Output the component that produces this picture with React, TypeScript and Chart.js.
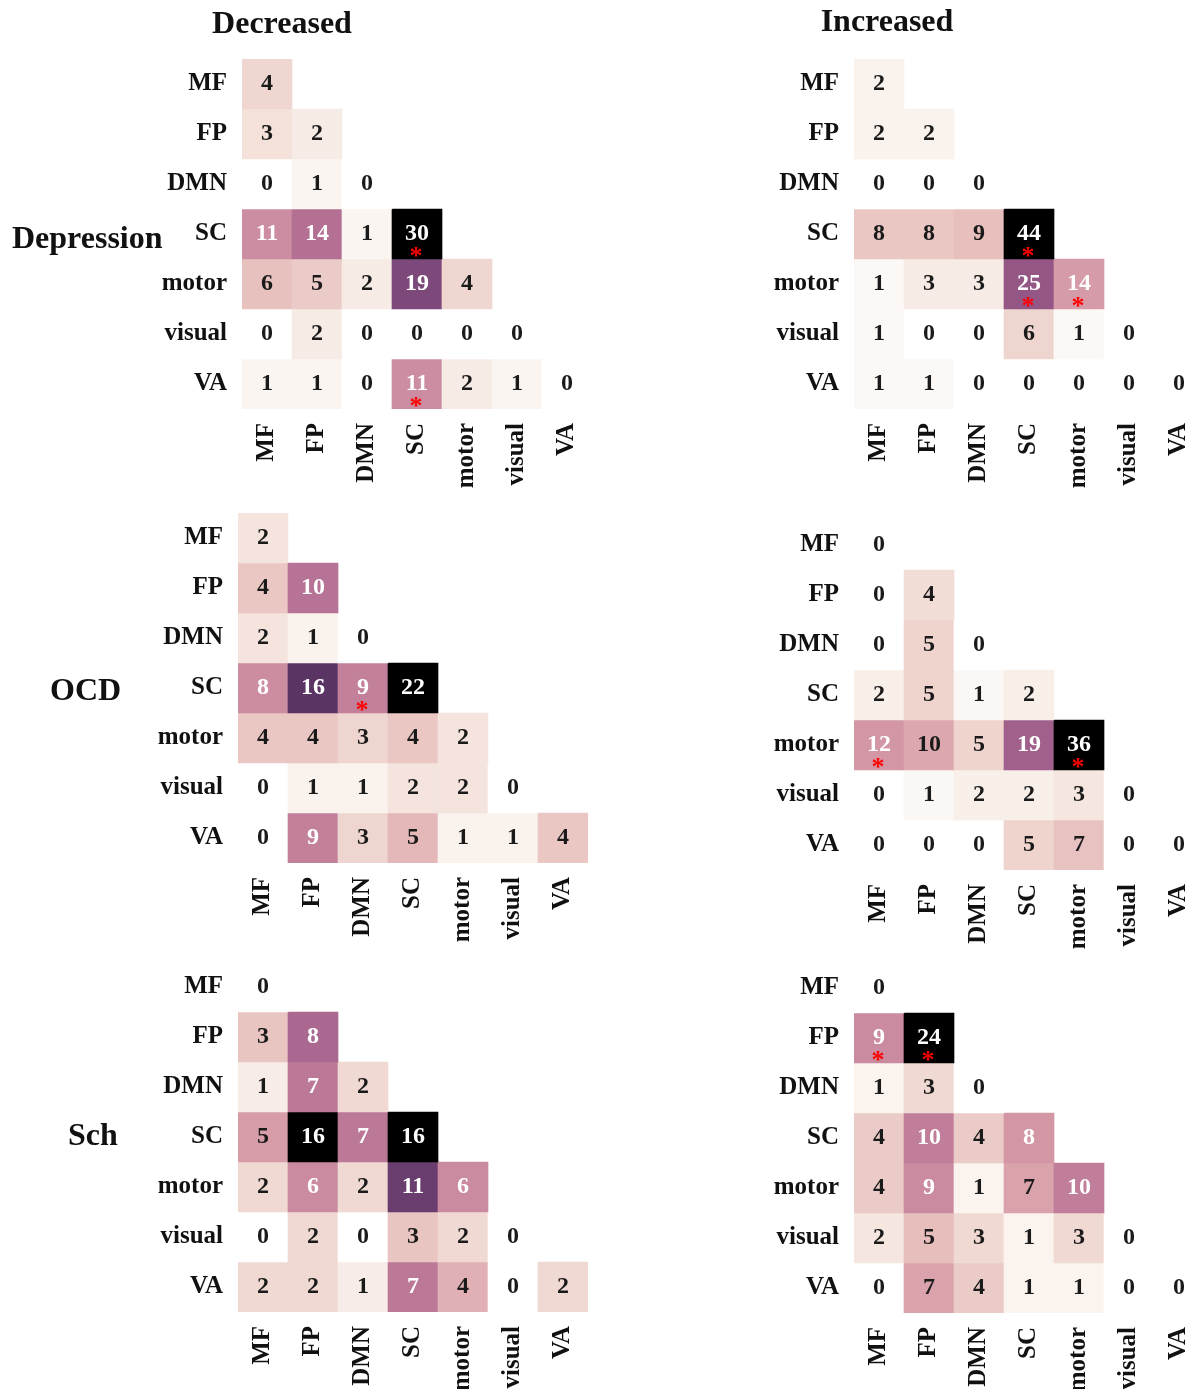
import React, { useEffect, useRef } from 'react';
import { Chart, registerables } from 'chart.js';

Chart.register(...registerables);

// ---------- data ----------
const NETWORKS = ['MF', 'FP', 'DMN', 'SC', 'motor', 'visual', 'VA'];
const COLUMN_TITLES = ['Decreased', 'Increased'];
const DISORDERS = ['Depression', 'OCD', 'Sch'];

// lower-triangular counts, row by row (row network x column network)
const depressionDecreased = [
  [4],
  [3, 2],
  [0, 1, 0],
  [11, 14, 1, 30],
  [6, 5, 2, 19, 4],
  [0, 2, 0, 0, 0, 0],
  [1, 1, 0, 11, 2, 1, 0],
];
const depressionDecreasedSig = [[3, 3], [6, 3]];

const depressionIncreased = [
  [2],
  [2, 2],
  [0, 0, 0],
  [8, 8, 9, 44],
  [1, 3, 3, 25, 14],
  [1, 0, 0, 6, 1, 0],
  [1, 1, 0, 0, 0, 0, 0],
];
const depressionIncreasedSig = [[3, 3], [4, 3], [4, 4]];

const ocdDecreased = [
  [2],
  [4, 10],
  [2, 1, 0],
  [8, 16, 9, 22],
  [4, 4, 3, 4, 2],
  [0, 1, 1, 2, 2, 0],
  [0, 9, 3, 5, 1, 1, 4],
];
const ocdDecreasedSig = [[3, 2]];

const ocdIncreased = [
  [0],
  [0, 4],
  [0, 5, 0],
  [2, 5, 1, 2],
  [12, 10, 5, 19, 36],
  [0, 1, 2, 2, 3, 0],
  [0, 0, 0, 5, 7, 0, 0],
];
const ocdIncreasedSig = [[4, 0], [4, 4]];

const schDecreased = [
  [0],
  [3, 8],
  [1, 7, 2],
  [5, 16, 7, 16],
  [2, 6, 2, 11, 6],
  [0, 2, 0, 3, 2, 0],
  [2, 2, 1, 7, 4, 0, 2],
];
const schDecreasedSig: number[][] = [];

const schIncreased = [
  [0],
  [9, 24],
  [1, 3, 0],
  [4, 10, 4, 8],
  [4, 9, 1, 7, 10],
  [2, 5, 3, 1, 3, 0],
  [0, 7, 4, 1, 1, 0, 0],
];
const schIncreasedSig = [[1, 0], [1, 1]];

// ---------- style / layout ----------
const FONT = "'Liberation Serif', 'Times New Roman', 'DejaVu Serif', serif";
const CELL = 50;
const Y_W = 130;
const X_H = 110;
const PAD_T = 44;
const PAD_R = 44;

const PANELS = [
  { values: depressionDecreased, sig: depressionDecreasedSig, gx: 242, gy: 59 },
  { values: depressionIncreased, sig: depressionIncreasedSig, gx: 854, gy: 59 },
  { values: ocdDecreased, sig: ocdDecreasedSig, gx: 238, gy: 513 },
  { values: ocdIncreased, sig: ocdIncreasedSig, gx: 854, gy: 520 },
  { values: schDecreased, sig: schDecreasedSig, gx: 238, gy: 962 },
  { values: schIncreased, sig: schIncreasedSig, gx: 854, gy: 963 },
];

// seaborn cubehelix_palette(light=1, dark=0) style colormap
function cubehelix(t: number): [number, number, number] {
  const x = 1 - Math.max(0, Math.min(1, t));
  const s = 0, r = 0.4, h = 0.8;
  const a = (h * x * (1 - x)) / 2;
  const phi = 2 * Math.PI * (s / 3 + r * x);
  const c = Math.cos(phi), sn = Math.sin(phi);
  const R = x + a * (-0.14861 * c + 1.78277 * sn);
  const G = x + a * (-0.29227 * c - 0.90649 * sn);
  const B = x + a * (1.97294 * c);
  const cl = (v: number) => Math.max(0, Math.min(1, v));
  return [cl(R), cl(G), cl(B)];
}
function toCss(rgb: [number, number, number]) {
  return `rgb(${Math.round(rgb[0] * 255)},${Math.round(rgb[1] * 255)},${Math.round(rgb[2] * 255)})`;
}
function luminance(rgb: [number, number, number]) {
  const lin = rgb.map((v) => (v <= 0.03928 ? v / 12.92 : Math.pow((v + 0.055) / 1.055, 2.4)));
  return 0.2126 * lin[0] + 0.7152 * lin[1] + 0.0722 * lin[2];
}

function Panel({ values, sig, gx, gy }: { values: number[][]; sig: number[][]; gx: number; gy: number }) {
  const ref = useRef<HTMLCanvasElement | null>(null);
  const W = Y_W + CELL * NETWORKS.length + PAD_R;
  const H = PAD_T + CELL * NETWORKS.length + X_H;

  useEffect(() => {
    if (!ref.current) return;
    const vmax = Math.max(...values.flat());
    const rgbOf = (v: number) => cubehelix(v / vmax);

    const datasets = NETWORKS.map((_, i) => ({
      label: NETWORKS[i],
      data: NETWORKS.map((__, j) => (j <= i ? [i, i + 1] : null)) as any,
      backgroundColor: NETWORKS.map((__, j) => (j <= i ? toCss(rgbOf(values[i][j])) : 'rgba(0,0,0,0)')),
      borderWidth: 0,
      grouped: false,
      barPercentage: 1,
      categoryPercentage: 1,
    }));

    const annotate = {
      id: 'cellAnnotations',
      afterDatasetsDraw(chart: any) {
        const xs = chart.scales.x;
        const ys = chart.scales.y;
        const ctx = chart.ctx;
        ctx.save();
        for (let i = 0; i < NETWORKS.length; i++) {
          for (let j = 0; j <= i; j++) {
            const v = values[i][j];
            const cx = xs.getPixelForValue(j);
            const cy = ys.getPixelForValue(i + 0.5);
            const lum = luminance(rgbOf(v));
            ctx.fillStyle = lum > 0.408 ? '#1a1a1a' : '#ffffff';
            ctx.font = `bold 24px ${FONT}`;
            ctx.textAlign = 'center';
            ctx.textBaseline = 'middle';
            ctx.fillText(String(v), cx, cy);
            if (sig.some((p) => p[0] === i && p[1] === j)) {
              ctx.fillStyle = '#ff0000';
              ctx.font = `bold 26px ${FONT}`;
              ctx.textBaseline = 'alphabetic';
              ctx.fillText('*', cx - 1, cy + 30);
            }
          }
        }
        ctx.restore();
      },
    };

    const tickFont = { family: FONT, weight: 'bold' as const, size: 25 };

    const chart = new Chart(ref.current, {
      type: 'bar',
      data: { labels: NETWORKS, datasets },
      options: {
        animation: false,
        responsive: false,
        maintainAspectRatio: false,
        layout: { padding: { top: PAD_T, right: PAD_R, left: 0, bottom: 0 } },
        plugins: { legend: { display: false }, tooltip: { enabled: false }, title: { display: false } },
        scales: {
          x: {
            type: 'category',
            offset: true,
            grid: { display: false, drawTicks: false },
            border: { display: false },
            ticks: { font: tickFont, color: '#111', minRotation: 90, maxRotation: 90, autoSkip: false, padding: 14 },
            afterFit: (scale: any) => { scale.height = X_H; },
          },
          y: {
            type: 'linear',
            min: 0,
            max: NETWORKS.length,
            reverse: true,
            grid: { display: false, drawTicks: false },
            border: { display: false },
            afterBuildTicks: (scale: any) => {
              scale.ticks = NETWORKS.map((_, i) => ({ value: i + 0.5 }));
            },
            ticks: {
              font: tickFont,
              color: '#111',
              autoSkip: false,
              padding: 15,
              callback: (_v: any, idx: number) => NETWORKS[idx],
            },
            afterFit: (scale: any) => { scale.width = Y_W; },
          },
        },
      } as any,
      plugins: [annotate],
    });
    return () => chart.destroy();
  }, []);

  return (
    <canvas
      ref={ref}
      width={W}
      height={H}
      style={{ position: 'absolute', left: gx - Y_W, top: gy - PAD_T, width: W, height: H }}
    />
  );
}

const textStyle: React.CSSProperties = {
  position: 'absolute',
  fontFamily: FONT,
  fontWeight: 'bold',
  fontSize: 32,
  lineHeight: '32px',
  color: '#111',
  whiteSpace: 'nowrap',
};

export default function App() {
  return (
    <div
      style={{
        position: 'absolute',
        left: 0,
        top: 0,
        width: 1190,
        height: 1389,
        overflow: 'hidden',
        background: '#fff',
      }}
    >
      {PANELS.map((p, k) => (
        <Panel key={k} values={p.values} sig={p.sig} gx={p.gx} gy={p.gy} />
      ))}
      <div style={{ ...textStyle, left: 132, width: 300, textAlign: 'center', top: 33 - 27 }}>{COLUMN_TITLES[0]}</div>
      <div style={{ ...textStyle, left: 737, width: 300, textAlign: 'center', top: 31 - 27 }}>{COLUMN_TITLES[1]}</div>
      <div style={{ ...textStyle, left: 12, top: 248 - 27 }}>{DISORDERS[0]}</div>
      <div style={{ ...textStyle, left: 50, top: 700 - 27 }}>{DISORDERS[1]}</div>
      <div style={{ ...textStyle, left: 68, top: 1145 - 27 }}>{DISORDERS[2]}</div>
    </div>
  );
}
